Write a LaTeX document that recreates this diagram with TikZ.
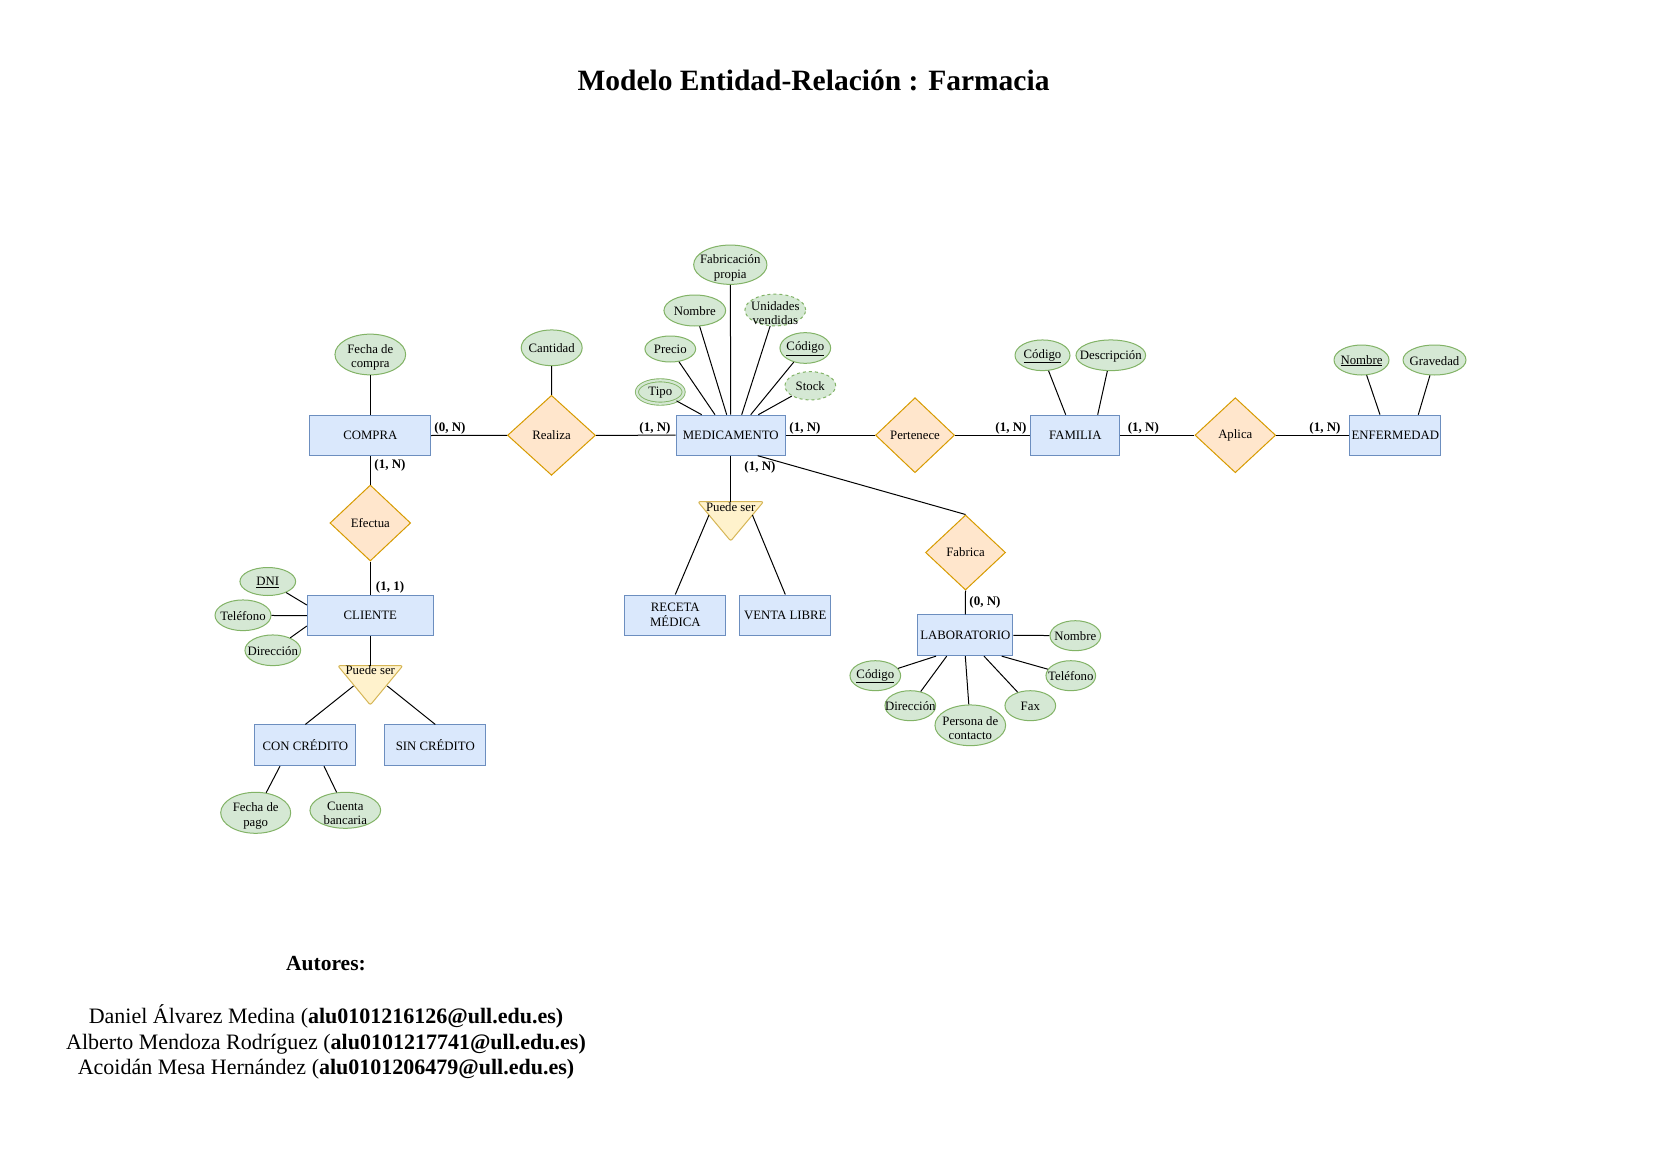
\documentclass[tikz,border=0pt]{standalone}
\usepackage{fontspec}
\setmainfont{Liberation Serif}
\usetikzlibrary{shapes.geometric}
\definecolor{entF}{HTML}{DAE8FC}
\definecolor{entD}{HTML}{6C8EBF}
\definecolor{relF}{HTML}{FFE6CC}
\definecolor{relD}{HTML}{D79B00}
\definecolor{attF}{HTML}{D5E8D4}
\definecolor{attD}{HTML}{82B366}
\definecolor{isaF}{HTML}{FFF2CC}
\definecolor{isaD}{HTML}{D6B656}
\begin{document}
\begin{tikzpicture}[x=1pt,y=-1pt,
  base/.style={font=\fontsize{12.8}{14.6}\selectfont, align=center, inner sep=0pt, text=black},
  entity/.style 2 args={base, rectangle, draw=entD, fill=entF, line width=1pt, minimum width=#1, minimum height=#2},
  rel/.style 2 args={base, diamond, draw=relD, fill=relF, line width=1pt, minimum width=#1, minimum height=#2},
  attr/.style 2 args={ellipse, draw=attD, fill=attF, line width=1pt, inner sep=0pt, minimum width=#1, minimum height=#2},
  weak/.style={dash pattern=on 3pt off 3pt},
  isa/.style={draw=isaD, fill=isaF, line width=1pt, rounded corners=2pt, line join=round},
  card/.style={font=\bfseries\fontsize{13}{15}\selectfont, inner sep=0pt},
  conn/.style={line width=1pt, draw=black},
  every label/.style={base, yshift=-0.7pt},
  twoline/.style={yshift=-2.3pt},
]
\useasboundingbox (0,0) rectangle (1654,1169);
\fill[white] (0,0) rectangle (1654,1169);

% Title
\node[font=\bfseries\fontsize{29.5}{34}\selectfont, anchor=base, inner sep=0pt] (title) at (813.5,90.7) {Modelo Entidad-Relación : Farmacia};

% Entities
\node[entity={120.7}{40}] (compra) at (370.3,435.5) {COMPRA};
\node[entity={109.3}{40}] (med) at (730.7,435.2) {MEDICAMENTO};
\node[entity={89.3}{40}] (fam) at (1075.3,435.2) {FAMILIA};
\node[entity={90.7}{40}] (enf) at (1395.3,435.2) {ENFERMEDAD};
\node[entity={126}{40}] (cli) at (370.3,615.7) {CLIENTE};
\node[entity={100.7}{40}] (rec) at (675.3,615) {RECETA\\MÉDICA};
\node[entity={90.7}{40}] (vl) at (785.3,615) {VENTA LIBRE};
\node[entity={95.3}{40.7}] (lab) at (965.3,635.3) {LABORATORIO};
\node[entity={100.7}{40.7}] (con) at (305.3,745.3) {CON CRÉDITO};
\node[entity={100.7}{40.7}] (sin) at (435.3,745.3) {SIN CRÉDITO};

% Relationships
\node[rel={88}{80}] (realiza) at (551.5,435.3) {Realiza};
\node[rel={80.7}{76}] (efectua) at (370.3,523) {Efectua};
\node[rel={79}{75}] (pert) at (915,435.2) {Pertenece};
\node[rel={80.7}{75}] (aplica) at (1235.3,435.2) {Aplica};
\node[rel={80}{75}] (fab) at (965.5,552.5) {Fabrica};

% ISA triangles
\coordinate (isaMa) at (697.9,501.7);
\coordinate (isaMb) at (763.5,501.7);
\coordinate (isaMc) at (730.7,541);
\filldraw[isa] (isaMa) -- (isaMb) -- (isaMc) -- cycle;
\coordinate (isaMtop) at (730.7,501.7);
\coordinate (isaMl) at (709,515);
\coordinate (isaMr) at (752.4,515);
\node[base, anchor=base] (isaMt) at (730.7,511) {Puede ser};

\coordinate (isaCa) at (337.8,665.7);
\coordinate (isaCb) at (402.8,665.7);
\coordinate (isaCc) at (370.3,705);
\filldraw[isa] (isaCa) -- (isaCb) -- (isaCc) -- cycle;
\coordinate (isaCtop) at (370.3,665.7);
\coordinate (isaCl) at (353.5,686);
\coordinate (isaCr) at (387.3,686);
\node[base, anchor=base] (isaCt) at (370.3,674.8) {Puede ser};

% Attributes
\node[attr={70.7}{40.7}, label={[twoline]center:Fecha de\\compra}] (fCompra) at (370.3,354.5) {};
\node[attr={61}{35.7}, label={center:Cantidad}] (cant) at (551.7,347.8) {};
\node[attr={73.3}{39.3}, label={[twoline]center:Fabricación\\propia}] (fabProp) at (730.3,264.7) {};
\node[attr={61.7}{31}, label={center:Nombre}] (mNom) at (694.8,310.5) {};
\node[attr={60.7}{31.7}, weak, label={[twoline]center:Unidades\\vendidas}] (mUni) at (775.3,310) {};
\node[attr={50.7}{26}, label={center:Precio}] (mPre) at (670.3,349) {};
\node[attr={50.7}{30.7}, label={center:\underline{Código}}] (mCod) at (805.3,348) {};
\node[attr={46.7}{23.4}, line width=0.9pt, double=attF, double distance=2.2pt, label={center:Tipo}] (mTipo) at (660.3,392) {};
\node[attr={50.7}{28.3}, weak, label={center:Stock}] (mStock) at (810.3,385.8) {};
\node[attr={55}{30.7}, label={center:\underline{Código}}] (fCod) at (1042.5,355.3) {};
\node[attr={69.7}{30.7}, label={center:Descripción}] (fDesc) at (1110.8,355.3) {};
\node[attr={55}{30}, label={center:\underline{Nombre}}] (eNom) at (1361.5,360) {};
\node[attr={63}{30}, label={center:Gravedad}] (eGrav) at (1434.5,360) {};
\node[attr={55.7}{28}, label={center:\underline{DNI}}] (cDni) at (267.8,581.5) {};
\node[attr={56}{30.7}, label={center:Teléfono}] (cTel) at (243,615.3) {};
\node[attr={55.7}{30.7}, label={center:Dirección}] (cDir) at (272.8,650.3) {};
\node[attr={70}{41}, label={[twoline]center:Fecha de\\pago}] (pFecha) at (255.7,812.8) {};
\node[attr={70.7}{36}, label={[twoline]center:Cuenta\\bancaria}] (pCuenta) at (345.3,810.3) {};
\node[attr={50.7}{30}, label={center:Nombre}] (lNom) at (1075.3,635.7) {};
\node[attr={49.7}{30}, label={center:Teléfono}] (lTel) at (1070.8,675.7) {};
\node[attr={50.7}{30}, label={center:Fax}] (lFax) at (1030.3,705.7) {};
\node[attr={70.7}{40.7}, label={[twoline]center:Persona de\\contacto}] (lPer) at (970.3,725.3) {};
\node[attr={50.7}{30}, label={center:Dirección}] (lDir) at (910.3,705.7) {};
\node[attr={50.7}{30}, label={center:\underline{Código}}] (lCod) at (875.3,675.7) {};

% Connectors: relationships
\draw[conn] (compra.east) -- (realiza.west);
\draw[conn] (realiza.east) -- (med.west);
\draw[conn] (med.east) -- (pert.west);
\draw[conn] (pert.east) -- (fam.west);
\draw[conn] (fam.east) -- (aplica.west);
\draw[conn] (aplica.east) -- (enf.west);
\draw[conn] (compra.south) -- (efectua.north);
\draw[conn] (efectua.south) -- (cli.north);
\draw[conn] ([xshift=27pt]med.south) -- (fab.north);
\draw[conn] (fab.south) -- (lab.north);
\draw[conn] (med.south) -- (isaMtop);
\draw[conn] (isaMl) -- (rec.north);
\draw[conn] (isaMr) -- (vl.north);
\draw[conn] (cli.south) -- (isaCtop);
\draw[conn] (isaCl) -- (con.north);
\draw[conn] (isaCr) -- (sin.north);

% Connectors: attributes
\draw[conn] (fCompra) -- (compra.north);
\draw[conn] (cant) -- (realiza.north);
\draw[conn] (fabProp) -- (med.north);
\draw[conn] (mNom) -- ([xshift=-4pt]med.north);
\draw[conn] (mPre) -- ([xshift=-15.7pt]med.north);
\draw[conn] (mTipo) -- ([xshift=-29pt]med.north);
\draw[conn] (mUni) -- ([xshift=11pt]med.north);
\draw[conn] (mCod) -- ([xshift=20pt]med.north);
\draw[conn] (mStock) -- ([xshift=27.6pt]med.north);
\draw[conn] (fCod) -- ([xshift=-9.6pt]fam.north);
\draw[conn] (fDesc) -- ([xshift=22.4pt]fam.north);
\draw[conn] (eNom) -- ([xshift=-15.3pt]enf.north);
\draw[conn] (eGrav) -- ([xshift=23pt]enf.north);
\draw[conn] (cDni) -- ([yshift=10.7pt]cli.west);
\draw[conn] (cTel) -- (cli.west);
\draw[conn] (cDir) -- ([yshift=-10.3pt]cli.west);
\draw[conn] (pFecha) -- ([xshift=-25.3pt]con.south);
\draw[conn] (pCuenta) -- ([xshift=18.7pt]con.south);
\draw[conn] (lNom) -- (lab.east);
\draw[conn] (lTel) -- ([xshift=36.4pt]lab.south);
\draw[conn] (lFax) -- ([xshift=18.7pt]lab.south);
\draw[conn] (lPer) -- (lab.south);
\draw[conn] (lDir) -- ([xshift=-18.6pt]lab.south);
\draw[conn] (lCod) -- ([xshift=-29.3pt]lab.south);

% Cardinalities
\node[card] (k1) at (450,428) {(0, N)};
\node[card] (k2) at (390,465.5) {(1, N)};
\node[card] (k3) at (655,428) {(1, N)};
\node[card] (k4) at (805,428) {(1, N)};
\node[card] (k5) at (760,467.5) {(1, N)};
\node[card] (k6) at (1011,428) {(1, N)};
\node[card] (k7) at (1143.3,428) {(1, N)};
\node[card] (k8) at (1325,428) {(1, N)};
\node[card] (k9) at (390,587.5) {(1, 1)};
\node[card] (k10) at (985,602.5) {(0, N)};

% Authors
\node[font=\bfseries\fontsize{21.5}{26}\selectfont, anchor=base, inner sep=0pt] (aut) at (326,970.5) {Autores:};
\node[font=\fontsize{22}{26}\selectfont, anchor=base, inner sep=0pt] (a1) at (326,1023) {Daniel Álvarez Medina (\textbf{alu0101216126@ull.edu.es)}};
\node[font=\fontsize{22}{26}\selectfont, anchor=base, inner sep=0pt] (a2) at (326,1049) {Alberto Mendoza Rodríguez (\textbf{alu0101217741@ull.edu.es)}};
\node[font=\fontsize{22}{26}\selectfont, anchor=base, inner sep=0pt] (a3) at (326,1074.5) {Acoidán Mesa Hernández (\textbf{alu0101206479@ull.edu.es)}};
\end{tikzpicture}
\end{document}
